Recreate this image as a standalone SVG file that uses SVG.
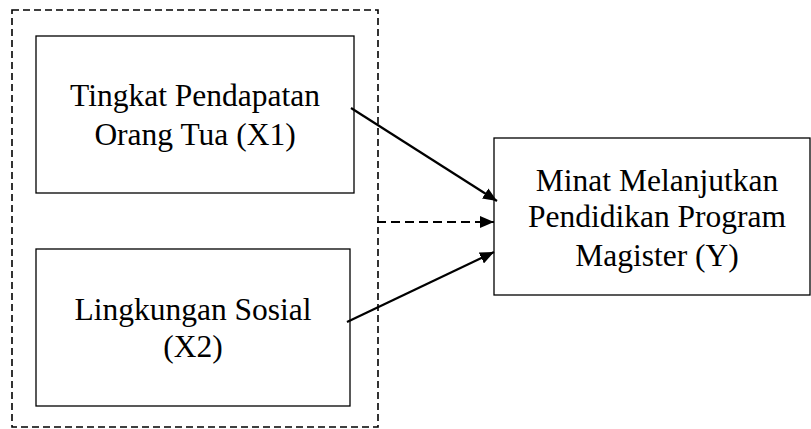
<svg xmlns="http://www.w3.org/2000/svg" width="811" height="429" viewBox="0 0 811 429">
<style>
.box{fill:#fff;stroke:#000;stroke-width:1.3}
.t{font-family:"Liberation Serif","Times New Roman",serif;font-size:31.5px;fill:#000;text-anchor:middle}
.c{stroke:#000;stroke-width:2.2;fill:none}
.d{stroke-dasharray:9 5}
</style>
<defs>
<marker id="ah" viewBox="0 0 14 12" refX="14" refY="6" markerWidth="14" markerHeight="12" markerUnits="userSpaceOnUse" orient="auto">
<path d="M0,0 L14,6 L0,12 z" fill="#000"/>
</marker>
</defs>
<rect x="0" y="0" width="811" height="429" fill="#fff"/>
<g id="group">
<rect x="12" y="10" width="366" height="417" fill="none" stroke="#000" stroke-width="1.6" stroke-dasharray="7 4"/>
</g>
<g id="x1">
<rect class="box" x="36" y="36" width="318" height="157"/>
<text class="t" x="195" y="106">Tingkat Pendapatan</text>
<text class="t" x="195" y="145">Orang Tua (X1)</text>
</g>
<g id="x2">
<rect class="box" x="36" y="249" width="314" height="157"/>
<text class="t" x="193" y="320">Lingkungan Sosial</text>
<text class="t" x="193" y="357">(X2)</text>
</g>
<g id="y">
<rect class="box" x="494" y="138" width="316" height="157"/>
<text class="t" x="657" y="191">Minat Melanjutkan</text>
<text class="t" x="657" y="227">Pendidikan Program</text>
<text class="t" x="657" y="266">Magister (Y)</text>
</g>
<g id="connectors">
<line class="c" x1="351" y1="108" x2="497" y2="201" marker-end="url(#ah)"/>
<line class="c d" x1="377" y1="222" x2="494" y2="222" marker-end="url(#ah)"/>
<line class="c" x1="347" y1="322" x2="494" y2="252" marker-end="url(#ah)"/>
</g>
</svg>
